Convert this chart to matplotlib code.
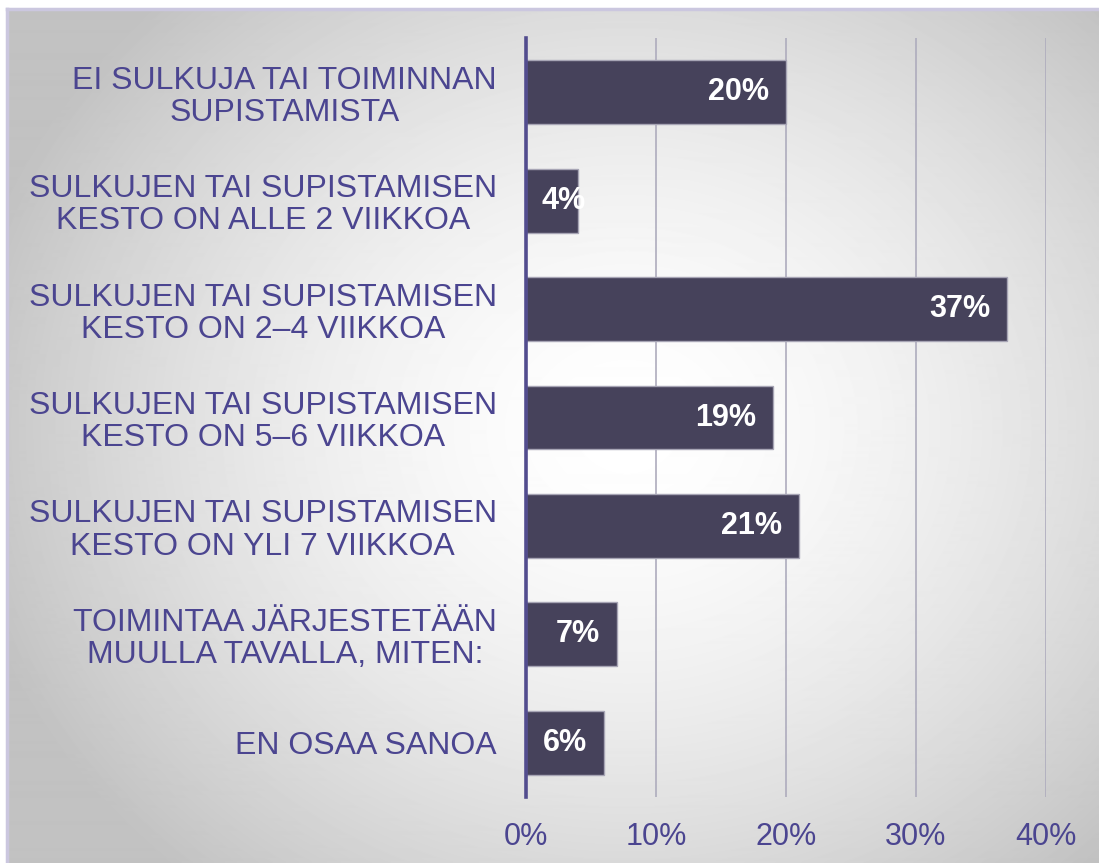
import matplotlib.pyplot as plt
import numpy as np

############### Data ###############
categories = [
    "EI SULKUJA TAI TOIMINNAN\nSUPISTAMISTA",
    "SULKUJEN TAI SUPISTAMISEN\nKESTO ON ALLE 2 VIIKKOA",
    "SULKUJEN TAI SUPISTAMISEN\nKESTO ON 2–4 VIIKKOA",
    "SULKUJEN TAI SUPISTAMISEN\nKESTO ON 5–6 VIIKKOA",
    "SULKUJEN TAI SUPISTAMISEN\nKESTO ON YLI 7 VIIKKOA",
    "TOIMINTAA JÄRJESTETÄÄN\nMUULLA TAVALLA, MITEN:",
    "EN OSAA SANOA",
]
values = [20, 4, 37, 19, 21, 7, 6]
xticks = [0, 10, 20, 30, 40]
xtick_labels = ["0%", "10%", "20%", "30%", "40%"]

############### Style ###############
plt.rcParams['font.family'] = ['Liberation Sans', 'DejaVu Sans']
TEXT = '#4b4590'
BAR = '#46425b'
W, H = 1099, 863

fig = plt.figure(figsize=(W / 100, H / 100), dpi=100)
fig.patch.set_facecolor('white')

# radial gradient background with thin border
bx0, by0 = 7, 9
bg = fig.add_axes([bx0 / W, 0, 1 - bx0 / W, 1 - by0 / H])
yy, xx = np.mgrid[0:H - by0, 0:W - bx0]
cx, cy = 620, 420
d = np.sqrt(((xx - cx) / 640.0) ** 2 + ((yy - cy) / 560.0) ** 2)
shade = np.clip(1.0 - 0.22 * d ** 1.6, 0.76, 1.0)
bg.imshow(shade, cmap='gray', vmin=0, vmax=1, aspect='auto', interpolation='bilinear')
bg.set_xticks([])
bg.set_yticks([])
for s in bg.spines.values():
    s.set_visible(False)
fig.add_artist(plt.Line2D([bx0 / W, 1], [1 - by0 / H, 1 - by0 / H], color='#cbc7df', lw=2.5))
fig.add_artist(plt.Line2D([bx0 / W, bx0 / W], [0, 1 - by0 / H], color='#cbc7df', lw=2.5))

############### Chart ###############
ax = fig.add_axes([526 / W, 66 / H, (1046 - 526) / W, (797 - 38) / H])
ax.set_facecolor('none')
y = np.arange(len(categories))
ax.barh(y, values, height=0.59, color=BAR, edgecolor='#a7a5b5', linewidth=1.0, zorder=3)
ax.set_xlim(0, 40)
ax.set_ylim(len(categories) - 0.5, -0.5)

ax.set_xticks(xticks)
ax.set_xticklabels(xtick_labels)
ax.set_yticks(y)
ax.set_yticklabels(categories, linespacing=1.1)
ax.tick_params(axis='both', length=0, labelcolor=TEXT)
ax.tick_params(axis='y', pad=21, labelsize=23)
ax.tick_params(axis='x', pad=18, labelsize=22)
for lbl in ax.get_yticklabels():
    lbl.set_multialignment('center')

ax.grid(axis='x', color='#aeacbd', linewidth=1.2, zorder=0)
for side in ['top', 'right', 'bottom']:
    ax.spines[side].set_visible(False)
ax.spines['left'].set_color('#524c8e')
ax.spines['left'].set_linewidth(2.6)
ax.spines['left'].set_zorder(4)

for yi, v in zip(y, values):
    if v < 5:
        ax.annotate(f"{v}%", (0, yi), xytext=(11, 0), textcoords='offset points',
                    ha='left', va='center', color='white', fontsize=22, fontweight='bold', zorder=5)
    else:
        ax.annotate(f"{v}%", (v, yi), xytext=(-12, 0), textcoords='offset points',
                    ha='right', va='center', color='white', fontsize=22, fontweight='bold', zorder=5)

fig.savefig('out.png', dpi=100)
